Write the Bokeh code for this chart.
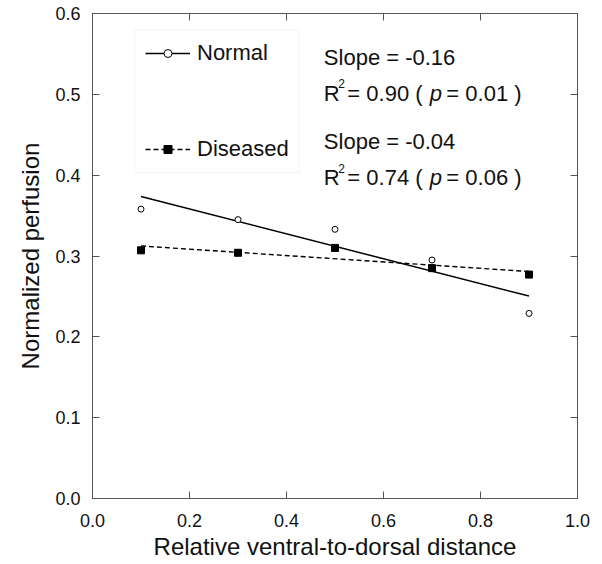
import numpy as np
from bokeh.plotting import figure
from bokeh.models import (Range1d, LinearAxis, FixedTicker, PrintfTickFormatter,
                          Legend, LegendItem, Label)
from bokeh.embed import file_html
from bokeh.resources import INLINE

# ---- data ----
distance = [0.1, 0.3, 0.5, 0.7, 0.9]
normal = [0.358, 0.345, 0.333, 0.295, 0.229]
diseased = [0.307, 0.304, 0.310, 0.285, 0.277]
x_ticks = [0.0, 0.2, 0.4, 0.6, 0.8, 1.0]
y_ticks = [0.0, 0.1, 0.2, 0.3, 0.4, 0.5, 0.6]

FONT = "Liberation Sans"
FRAME = "#555555"

p = figure(width=594, height=562, output_backend="svg", toolbar_location=None,
           x_range=Range1d(0, 1), y_range=Range1d(0, 0.6),
           min_border_left=92, min_border_right=17, min_border_top=13,
           min_border_bottom=63)
p.grid.visible = False
p.outline_line_color = FRAME
p.outline_line_width = 1

for ax in (p.xaxis[0], p.yaxis[0]):
    ax.axis_line_color = FRAME
    ax.major_tick_line_color = FRAME
    ax.major_tick_in = 7
    ax.major_tick_out = 0
    ax.minor_tick_line_color = None
    ax.major_label_text_font = FONT
    ax.major_label_text_font_size = "18px"
    ax.major_label_text_color = "#111111"
    ax.axis_label_text_font = FONT
    ax.axis_label_text_font_size = "24px"
    ax.axis_label_text_font_style = "normal"
    ax.axis_label_text_color = "#111111"
    ax.formatter = PrintfTickFormatter(format="%.1f")

p.xaxis[0].ticker = FixedTicker(ticks=x_ticks)
p.yaxis[0].ticker = FixedTicker(ticks=y_ticks)
p.xaxis[0].axis_label = "Relative ventral-to-dorsal distance"
p.yaxis[0].axis_label = "Normalized perfusion"
p.xaxis[0].major_label_standoff = 15
p.xaxis[0].axis_label_standoff = 3
p.yaxis[0].major_label_standoff = 12
p.yaxis[0].axis_label_standoff = 8

# inward ticks on top and right (no labels drawn)
for loc, tk in (("above", x_ticks), ("right", y_ticks)):
    a = LinearAxis(ticker=FixedTicker(ticks=tk))
    a.axis_line_color = None
    a.major_tick_line_color = FRAME
    a.major_tick_in = 7
    a.major_tick_out = 0
    a.minor_tick_line_color = None
    a.major_label_text_font_size = "1px"
    a.major_label_text_color = None
    a.major_label_standoff = 0
    p.add_layout(a, loc)

# regression lines computed from the data
xa = np.array(distance)
xfit = np.array([min(distance), max(distance)])
kn, bn = np.polyfit(xa, np.array(normal), 1)
kd, bd = np.polyfit(xa, np.array(diseased), 1)

ln = p.line(xfit, kn * xfit + bn, line_color="black", line_width=1.5)
ld = p.line(xfit, kd * xfit + bd, line_color="black", line_width=1.4,
            line_dash="5 3")
sn = p.scatter(distance, normal, marker="circle", size=6, line_color="black",
               fill_color="white", line_width=1)
sd = p.scatter(distance, diseased, marker="square", size=7, line_color="black",
               fill_color="black")

legend = Legend(items=[LegendItem(label="Normal", renderers=[ln, sn]),
                       LegendItem(label="Diseased", renderers=[ld, sd])],
                location=(42, 325), padding=10, spacing=70, glyph_width=45,
                glyph_height=20, label_height=20, label_standoff=7,
                label_text_font=FONT, label_text_font_size="22px",
                label_text_color="#111111", border_line_color="#eeeeee",
                border_line_width=1, background_fill_color="white", margin=0)
p.add_layout(legend)

X0 = 0.477
DY = 0.0086


def lab(y, text, dx=0, size="22px", style="normal"):
    p.add_layout(Label(x=X0, y=y + DY, x_offset=dx, text=text, text_font=FONT,
                       text_font_size=size, text_font_style=style,
                       text_color="#111111", text_baseline="alphabetic",
                       text_align="left"))


# Normal statistics
lab(0.537, "Slope = -0.16")
lab(0.493, "R")
lab(0.505, "2", dx=14.5, size="12px")
lab(0.493, "= 0.90 (", dx=23.5)
lab(0.493, "p", dx=106, style="italic")
lab(0.493, "= 0.01 )", dx=122.5)
# Diseased statistics
lab(0.433, "Slope = -0.04")
lab(0.388, "R")
lab(0.400, "2", dx=14.5, size="12px")
lab(0.388, "= 0.74 (", dx=23.5)
lab(0.388, "p", dx=106, style="italic")
lab(0.388, "= 0.06 )", dx=122.5)

open("out.html", "w").write(file_html(p, INLINE))
